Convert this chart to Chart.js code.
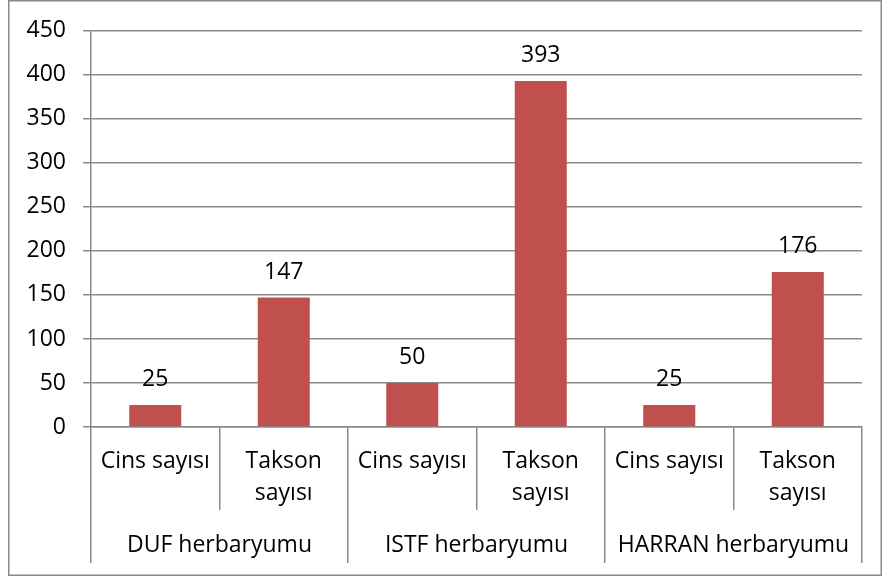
<!DOCTYPE html>
<html>
<head>
<meta charset="utf-8">
<script src="https://cdn.jsdelivr.net/npm/chart.js@4/dist/chart.umd.min.js"></script>
<style>
  html, body { margin: 0; padding: 0; background: #fff; }
  #wrap { position: relative; width: 882px; height: 578px; }
</style>
</head>
<body>
<div id="wrap"><canvas id="c" width="882" height="578"></canvas></div>
<script>
// ---- data ----
const categories = [["Cins sayısı"], ["Takson", "sayısı"], ["Cins sayısı"], ["Takson", "sayısı"], ["Cins sayısı"], ["Takson", "sayısı"]];
const groups = ["DUF herbaryumu", "ISTF herbaryumu", "HARRAN herbaryumu"];
const values = [25, 147, 50, 393, 25, 176];
const yMin = 0;
const yMax = 450;
const yStep = 50;

// ---- styles ----
const FONT = "'Open Sans', 'DejaVu Sans', sans-serif";
const FS = 23;
const GRID = '#898989';
const BAR = '#C0504D';

const frame = {
  id: 'frame',
  beforeDraw(chart) {
    const ctx = chart.ctx;
    ctx.save();
    ctx.fillStyle = '#fff';
    ctx.fillRect(0, 0, chart.width, chart.height);
    ctx.strokeStyle = GRID;
    ctx.lineWidth = 1.5;
    ctx.strokeRect(8.75, 0.75, 872.5, 574.5);
    ctx.restore();
  }
};

const valueLabels = {
  id: 'valueLabels',
  afterDatasetsDraw(chart) {
    const ctx = chart.ctx;
    ctx.save();
    ctx.font = FS + "px " + FONT;
    ctx.fillStyle = '#000';
    ctx.textAlign = 'center';
    ctx.textBaseline = 'alphabetic';
    chart.data.datasets.forEach((ds, di) => {
      chart.getDatasetMeta(di).data.forEach((bar, i) => {
        ctx.fillText(String(ds.data[i]), bar.x, bar.y - 19);
      });
    });
    ctx.restore();
  }
};

new Chart(document.getElementById('c'), {
  type: 'bar',
  data: {
    labels: categories,
    datasets: [{
      data: values,
      backgroundColor: BAR,
      borderWidth: 0,
      categoryPercentage: 1,
      barPercentage: 0.405
    }]
  },
  options: {
    responsive: false,
    animation: false,
    devicePixelRatio: 1,
    layout: { padding: { left: 0, right: 20, top: 29, bottom: 15 } },
    plugins: { legend: { display: false }, tooltip: { enabled: false } },
    scales: {
      y: {
        min: yMin, max: yMax,
        ticks: { stepSize: yStep, color: '#000', padding: 17, font: { family: FONT, size: FS } },
        grid: { color: GRID, lineWidth: 1.5, tickLength: 8 },
        border: { display: true, color: GRID, width: 1.5 },
        afterFit(s) { s.width = 91; }
      },
      x: {
        position: 'bottom',
        offset: true,
        grid: { offset: true, drawOnChartArea: false, color: GRID, lineWidth: 1.5, tickLength: 83 },
        border: { display: true, color: GRID, width: 1.5 },
        ticks: { color: '#000', padding: -65, maxRotation: 0, autoSkip: false,
                 font: { family: FONT, size: FS, lineHeight: 1.4 } },
        afterFit(s) { s.height = 83; }
      },
      x2: {
        type: 'category',
        position: 'bottom',
        labels: groups,
        offset: true,
        grid: { offset: true, drawOnChartArea: false, color: GRID, lineWidth: 1.5, tickLength: 53 },
        border: { display: false },
        ticks: { color: '#000', padding: -34, maxRotation: 0, autoSkip: false,
                 font: { family: FONT, size: FS, lineHeight: 1.4 } },
        afterFit(s) { s.height = 53; }
      }
    }
  },
  plugins: [frame, valueLabels]
});
</script>
</body>
</html>
